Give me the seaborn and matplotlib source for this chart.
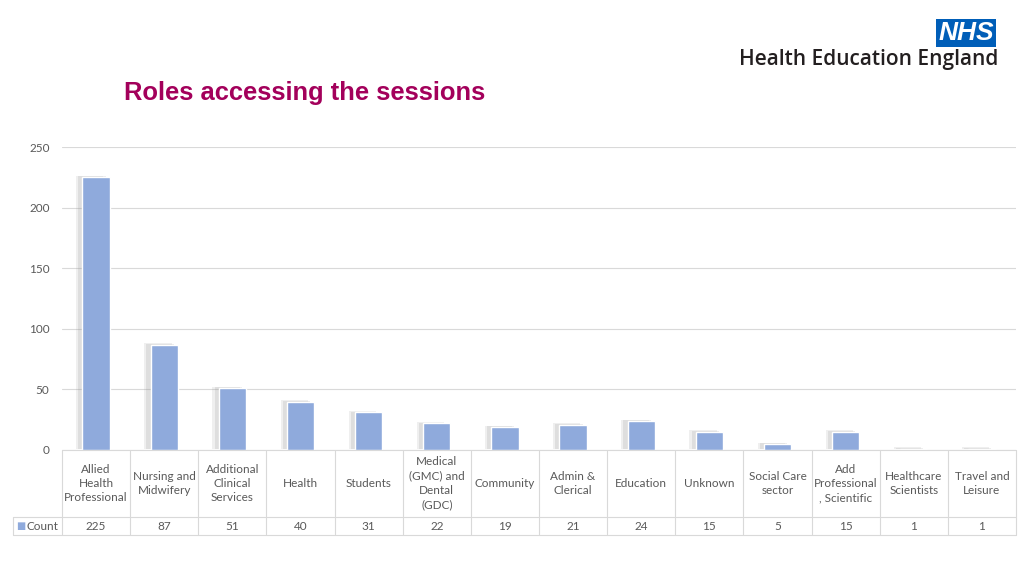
import numpy as np
import pandas as pd
import matplotlib
matplotlib.use('Agg')
import matplotlib.pyplot as plt
import matplotlib.patheffects as pe
import seaborn as sns

sns.set_theme(style='white')
plt.rcParams['font.family'] = ['Lato', 'DejaVu Sans']

# data
roles = ['Allied\nHealth\nProfessional', 'Nursing and\nMidwifery', 'Additional\nClinical\nServices',
         'Health', 'Students', 'Medical\n(GMC) and\nDental\n(GDC)', 'Community', 'Admin &\nClerical',
         'Education', 'Unknown', 'Social Care\nsector', 'Add\nProfessional\n, Scientific',
         'Healthcare\nScientists', 'Travel and\nLeisure']
counts = [225, 87, 51, 40, 31, 22, 19, 21, 24, 15, 5, 15, 1, 1]
yticks = [0, 50, 100, 150, 200, 250]

bar_col = '#8FAADC'
grid_col = '#D9D9D9'
txt_col = '#595959'

df = pd.DataFrame({'role': roles, 'count': counts})

fig = plt.figure(figsize=(10.24, 5.76), dpi=100)
ax = fig.add_axes([62/1024, 1-450/576, (1016-62)/1024, (450-147)/576])

sns.barplot(data=df, x='role', y='count', color=bar_col, width=0.4, saturation=1, ax=ax)
# soft shadow on the left of each bar
for p in ax.patches:
    p.set_path_effects([pe.SimplePatchShadow(offset=(-4.5, 1), shadow_rgbFace='#9a9a9a', alpha=0.15),
                        pe.SimplePatchShadow(offset=(-3, 0.6), shadow_rgbFace='#9a9a9a', alpha=0.2),
                        pe.Normal()])

ax.set_ylim(0, 250)
ax.set_xlim(-0.5, len(roles) - 0.5)
ax.set_yticks(yticks)
ax.set_yticklabels([str(t) for t in yticks], color=txt_col, fontsize=8.5)
ax.tick_params(axis='y', length=0, pad=9)
ax.set_xticks([])
ax.set_xlabel('')
ax.set_ylabel('')
ax.grid(axis='y', color=grid_col, lw=0.8)
ax.set_axisbelow(True)
for s in ax.spines.values():
    s.set_visible(False)

# data table under the chart
tr = ax.get_xaxis_transform()
row1 = -(517-450)/303
row2 = -(535-450)/303
left = -0.5 - (62-13)/((1016-62)/14)
n = len(roles)
kw = dict(color=grid_col, lw=0.8, transform=tr, clip_on=False)
ax.plot([-0.5, n-0.5], [0, 0], **kw)
ax.plot([left, n-0.5], [row1, row1], **kw)
ax.plot([left, n-0.5], [row2, row2], **kw)
ax.plot([left, left], [row1, row2], **kw)
for i in range(n+1):
    ax.plot([i-0.5, i-0.5], [0, row2], **kw)
for i, (r, c) in enumerate(zip(roles, counts)):
    ax.text(i, row1/2, r, ha='center', va='center', fontsize=8.5, color=txt_col,
            transform=tr, linespacing=1.38)
    ax.text(i, (row1+row2)/2, str(c), ha='center', va='center', fontsize=8.5,
            color=txt_col, transform=tr)
ax.text(left + 0.05, (row1+row2)/2, '\u25a0', ha='left', va='center', fontsize=7,
        color=bar_col, transform=tr, family='DejaVu Sans')
ax.text(left + 0.2, (row1+row2)/2, 'Count', ha='left', va='center', fontsize=8.5,
        color=txt_col, transform=tr)

# title
fig.text(124/1024, 1-93/576, 'Roles accessing the sessions', fontsize=18.4, fontweight='bold',
         color='#A3005B', family='Liberation Sans', va='center', ha='left')

# logo
fig.text(966/1024, 1-33/576, 'NHS', fontsize=19, fontweight='bold', style='italic',
         color='white', family='Liberation Sans', ha='center', va='center',
         bbox=dict(boxstyle='square,pad=0.08', fc='#005EB8', ec='none'))
fig.text(998/1024, 1-60/576, 'Health Education England', fontsize=15, fontweight='semibold',
         color='#231F20', family='Open Sans', ha='right', va='center')

fig.savefig('out.png', dpi=100)
